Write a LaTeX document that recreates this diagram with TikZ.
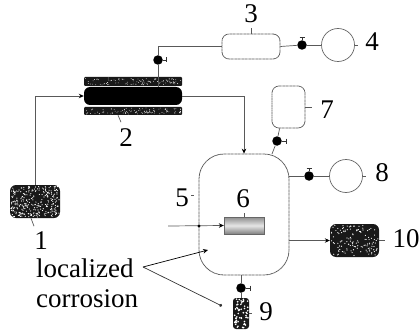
\documentclass[tikz,border=0pt]{standalone}
\usepackage{fontspec}
\setmainfont{Liberation Serif}
\usetikzlibrary{arrows.meta,patterns}
\newcommand{\speck}[6]{%
 \foreach \i in {1,...,#5}
  \fill[white] ({#1+(rnd-.5)*(#3-2)},{#2+(rnd-.5)*(#4-2)}) circle (#6);}
\begin{document}
\begin{tikzpicture}[x=1pt,y=-1pt,
                    line/.style={line width=.7pt,black!65},
                    flow/.style={line,-{Stealth[length=5pt,width=4.5pt,black]}},
                    valve/.style={circle,fill,inner sep=0pt,minimum size=9.5pt},
                    tank/.style={draw=black!65,dash pattern=on 1pt off .4pt,line width=.8pt,rounded corners=7pt,inner sep=0pt},
                    ball/.style={circle,draw=black!60,line width=.7pt,inner sep=0pt,minimum size=33pt},
                    pack/.style={fill=black!90,rounded corners=6pt,inner sep=0pt},
                    num/.style={font=\fontsize{27}{30}\selectfont,inner sep=0pt},
                    every node/.style={font=\fontsize{27}{30}\selectfont}]
 \useasboundingbox (0,0) rectangle (419,331);
 \pgfmathsetseed{41}
 % feed and reactor
 \node[pack,minimum width=50pt,minimum height=33pt] (feed) at (35,201.5) {};
 \speck{35}{201.5}{50}{33}{280}{.6pt}
 \node[pack,rounded corners=1pt,minimum width=98pt,minimum height=9pt] (jacketa) at (133,81.5) {};
 \speck{133}{81.5}{98}{9}{110}{.4pt}
 \node[pack,rounded corners=1pt,minimum width=98pt,minimum height=8pt] (jacketb) at (133,111) {};
 \speck{133}{111}{98}{8}{110}{.4pt}
 \node[fill=black,rounded corners=6pt,inner sep=0pt,minimum width=98pt,minimum height=18pt] (reactor) at (133,96) {};
 % gas side
 \node[tank,minimum width=58pt,minimum height=25pt] (buffer) at (251,46.5) {};
 \node[ball] (ballb) at (338,45) {};
 \node[tank,minimum width=33pt,minimum height=42pt] (vial) at (288.5,107) {};
 \node[ball] (ballc) at (346,176) {};
 % vessel
 \node[tank,rounded corners=25pt,minimum width=90pt,minimum height=121pt] (vessel) at (244,214.5) {};
 \node[draw=black!60,inner sep=0pt,minimum width=40pt,minimum height=17pt,
       top color=black!45,bottom color=black!50,middle color=black!10] (sample) at (244,225.5) {};
 \node[pack,minimum width=49pt,minimum height=33pt] (waste) at (354.5,240.5) {};
 \speck{354.5}{240.5}{49}{33}{130}{.6pt}
 \node[pack,rounded corners=3pt,minimum width=16pt,minimum height=31pt] (trap) at (241,313.5) {};
 \speck{241}{313.5}{16}{31}{55}{.9pt}
 % valves
 \node[valve] (va) at (158,60) {};
 \node[valve] (vb) at (302,45) {};
 \node[valve] (vc) at (277,141) {};
 \node[valve] (vd) at (309,176) {};
 \node[valve] (ve) at (241,288) {};
 \coordinate (topa) at (158,87);
 \coordinate (topc) at (272,154);
 \coordinate (inlet) at (168,226);
 \coordinate (pit) at (143,267);
 \coordinate (pita) at (208,250);
 \coordinate (pitb) at (222,306);
 % pipes
 \draw[flow] (feed.north) |- (reactor.west);
 \draw[flow] (reactor.east) -| (vessel.north);
 \draw[line] (topa) -- (va);
 \draw[line] (va) |- (buffer.west);
 \draw[line] (buffer.east) -- (vb);
 \draw[line] (vb) -- (ballb);
 \draw[line] (vial.south west) ++(8,0) -- (vc);
 \draw[line] (vc) -- (topc);
 \draw[line] (vessel.east |- vd) -- (vd);
 \draw[line] (vd) -- (ballc);
 \draw[flow] (inlet) -- (sample.west);
 \draw[flow] (vessel.east |- waste) -- (waste.west);
 \draw[line] (vessel.south -| ve) -- (ve);
 \draw[line] (ve) -- (trap.north);
 \fill (199,226) circle (1.6pt);
 % valve handles
 \foreach \v/\dx/\dy in {va/8/0,vb/0/-8,vc/9/0,vd/0/-8,ve/9/0}
  \draw[line width=.7pt,black!80] (\v) -- ++(\dx,\dy);
 \draw[line width=.7pt,black!80] (166,57.5) -- (166,62.5) (299.5,37) -- (304.5,37) (286,138.5) -- (286,143.5)
  (306.5,168) -- (311.5,168) (250,285.5) -- (250,290.5);
 % corrosion pointers
 \draw[line width=.7pt,black,-{Stealth[length=5pt,width=4.5pt]}] (pit) -- (pita);
 \draw[line width=.7pt,black!80,-{Circle[length=3pt]}] (pit) -- (pitb);
 % labels
 \node[num] (numa) at (41,241) {1};
 \node[num] (numb) at (126,138) {2};
 \node[num] (numc) at (251,14) {3};
 \node[num] (numd) at (372,42) {4};
 \node[num] (nume) at (182,198) {5};
 \node[num] (numf) at (243,199) {6};
 \node[num] (numg) at (327,110) {7};
 \node[num] (numh) at (382,173) {8};
 \node[num] (numi) at (266,312) {9};
 \node[num] (numj) at (406,239) {10};
 \node[num,anchor=base west] (local) at (36,277) {localized};
 \node[num,anchor=base west] (corr) at (36,307) {corrosion};
 % leader ticks
 \draw[line] (feed.south) ++(-4,0) -- ++(3,8);
 \draw[line] (jacketb.south) ++(-15,0) -- ++(3,7);
 \draw[line] (buffer.north) -- ++(0,-6);
 \draw[line] (ballb.east) -- ++(3,0);
 \draw[line] (191,195) -- ++(3,0);
 \draw[line] (sample.north) -- ++(0,-4);
 \draw[line] (vial.east) -- ++(7,0);
 \draw[line] (ballc.east) -- ++(3,0);
 \draw[line] (trap.east) -- ++(3,0);
 \draw[line] (waste.east) -- ++(6,0);
\end{tikzpicture}
\end{document}
